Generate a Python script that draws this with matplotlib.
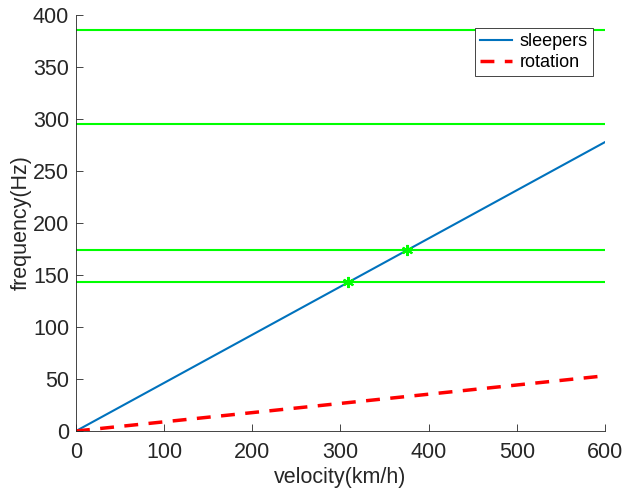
import matplotlib.pyplot as plt

plt.rcParams["font.family"] = ["Liberation Sans", "DejaVu Sans"]

velocity = [0, 600]
sleepers = [0, 277.8]
rotation = [0, 53.1]
resonances = [143, 174, 295, 386]
cross_v = [309, 376]
cross_f = [143, 174]

fig = plt.figure(figsize=(6.27, 4.98), dpi=100)
ax = fig.add_axes([0.1212, 0.1345, 0.8437, 0.8354])

for f in resonances:
    ax.plot(velocity, [f, f], color="#00ff00", lw=1.5)
ax.plot(velocity, sleepers, color="#0072bd", lw=1.5, label="sleepers")
ax.plot(velocity, rotation, color="#ff0000", lw=2.5, ls=(0, (4, 3)), label="rotation")
ax.plot(cross_v, cross_f, ls="none", marker=(6, 2, 0), ms=8, mew=1.5, color="#00ff00")

ax.set_xlim(0, 600)
ax.set_ylim(0, 400)
ax.set_xticks(range(0, 601, 100))
ax.set_yticks(range(0, 401, 50))
ax.spines["top"].set_visible(False)
ax.spines["right"].set_visible(False)
for s in ("left", "bottom"):
    ax.spines[s].set_color("#262626")
    ax.spines[s].set_linewidth(0.6)
ax.tick_params(direction="in", length=5, width=0.6, color="#262626",
               labelsize=15.5, labelcolor="#262626")
ax.tick_params(axis="x", pad=8)
ax.tick_params(axis="y", pad=5)
ax.set_xlabel("velocity(km/h)", fontsize=15.5, color="#262626", labelpad=3)
ax.set_ylabel("frequency(Hz)", fontsize=15.5, color="#262626", labelpad=1)

leg = ax.legend(loc="upper right", bbox_to_anchor=(0.977, 0.969), fontsize=13,
                fancybox=False, framealpha=1, edgecolor="#262626",
                handlelength=1.8, borderpad=0.28, labelspacing=0.22, handletextpad=0.4,
                borderaxespad=0)
leg.get_frame().set_linewidth(0.6)

fig.savefig("out.png")
